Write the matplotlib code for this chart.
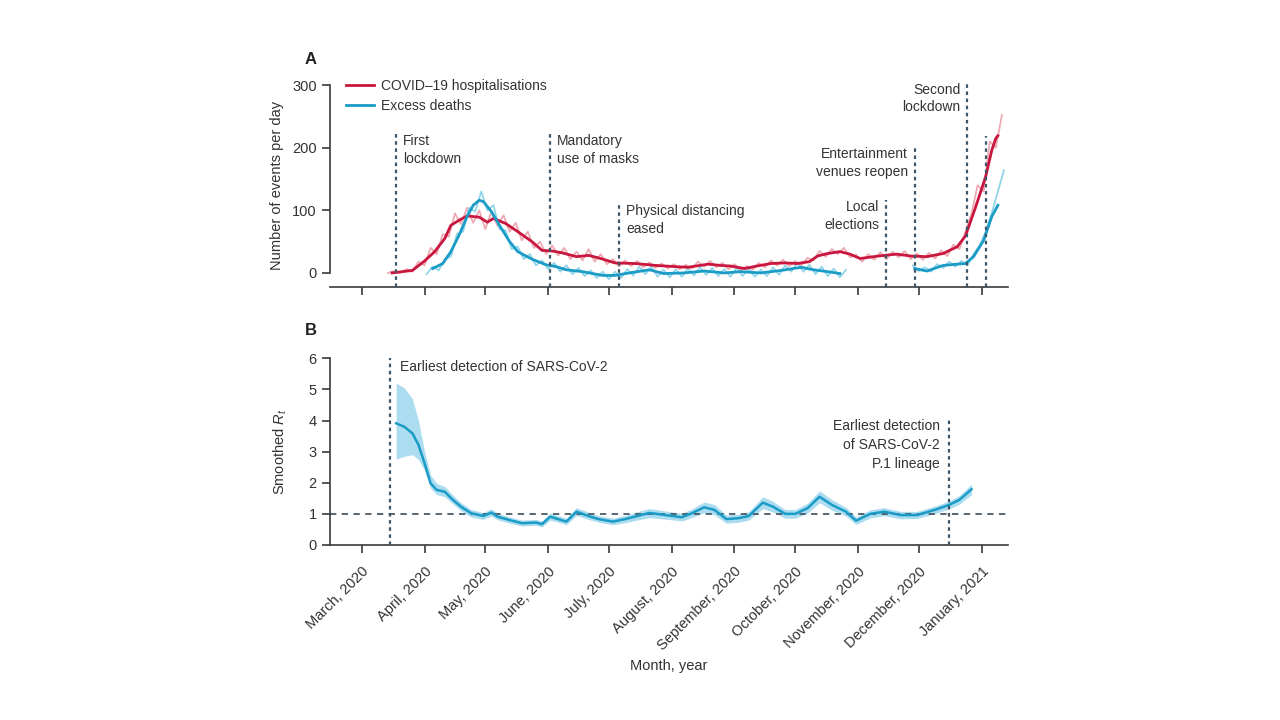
import matplotlib
matplotlib.use("Agg")
import matplotlib.pyplot as plt
from matplotlib.lines import Line2D
import pandas as pd

plt.rcParams['font.family'] = ['Liberation Sans', 'DejaVu Sans']
plt.rcParams['mathtext.fontset'] = 'custom'
plt.rcParams['mathtext.rm'] = 'Liberation Sans'
plt.rcParams['mathtext.it'] = 'Liberation Sans:italic'

# ---- data ----
# panel A: COVID-19 hospitalisations (smoothed)
hosp_dates = ['2020-03-16', '2020-03-26', '2020-04-01', '2020-04-06', '2020-04-11', '2020-04-14',
              '2020-04-18', '2020-04-22', '2020-04-28', '2020-05-02', '2020-05-05', '2020-05-11',
              '2020-05-17', '2020-05-24', '2020-05-29', '2020-06-03', '2020-06-08', '2020-06-15',
              '2020-06-21', '2020-06-27', '2020-07-04', '2020-07-14', '2020-07-24', '2020-08-03',
              '2020-08-09', '2020-08-19', '2020-08-25', '2020-08-30', '2020-09-06', '2020-09-12',
              '2020-09-19', '2020-09-26', '2020-10-02', '2020-10-08', '2020-10-12', '2020-10-17',
              '2020-10-23', '2020-10-28', '2020-11-02', '2020-11-11', '2020-11-20', '2020-11-27',
              '2020-12-05', '2020-12-13', '2020-12-20', '2020-12-24', '2020-12-29', '2021-01-03',
              '2021-01-06', '2021-01-08', '2021-01-09']
hosp_smooth = [0, 4, 19, 34, 55, 76, 84, 91, 89, 81, 87, 79, 66, 50, 36, 35, 32, 26, 28, 23,
               16, 15, 12, 10, 9, 14, 12, 11, 7, 11, 15, 16, 15, 18, 27, 31, 34, 30, 23, 27,
               30, 27, 26, 31, 42, 59, 105, 154, 196, 215, 219]

# daily counts sampled every 3 days from 14 March 2020
hosp_raw_start = '2020-03-14'
hosp_raw = [0, 3, 0, 6, 2, 18,
            12, 40, 30, 62, 58, 95, 78, 104, 80, 100,
            70, 98, 75, 92, 66, 80, 52, 66, 40, 50, 30,
            44, 28, 40, 22, 34, 20, 38, 18, 30, 14,
            22, 10, 20, 11, 19, 9, 17, 8, 15, 7,
            14, 6, 13, 7, 18, 10, 19, 9, 16, 6,
            14, 4, 11, 5, 16, 9, 20, 12, 21, 11,
            19, 12, 24, 20, 35, 26, 38, 30, 40, 25, 29,
            18, 30, 21, 33, 22, 34, 25, 35, 22, 31,
            21, 32, 23, 36, 27, 45, 38, 66, 95, 140,
            130, 210, 200, 252]

# excess deaths (smoothed), two stretches
deaths_dates_a = ['2020-04-05', '2020-04-10', '2020-04-14', '2020-04-18', '2020-04-22', '2020-04-25',
                  '2020-04-28', '2020-04-30', '2020-05-04', '2020-05-08', '2020-05-13', '2020-05-17',
                  '2020-05-24', '2020-05-31', '2020-06-05', '2020-06-10', '2020-06-18', '2020-06-28',
                  '2020-07-04', '2020-07-11', '2020-07-21', '2020-07-28', '2020-08-07', '2020-08-17',
                  '2020-08-27', '2020-09-04', '2020-09-14', '2020-09-24', '2020-10-04', '2020-10-10',
                  '2020-10-17', '2020-10-23']
deaths_smooth_a = [7, 15, 34, 60, 90, 108, 116, 114, 98, 76, 50, 34, 22, 13, 10, 5, 2, -4,
                   -4, 0, 5, -1, 0, 3, 0, 2, 0, 4, 9, 5, 2, -1]
deaths_dates_b = ['2020-11-29', '2020-12-05', '2020-12-13', '2020-12-20', '2020-12-24',
                  '2020-12-28', '2021-01-02', '2021-01-06', '2021-01-09']
deaths_smooth_b = [7, 3, 12, 14, 15, 26, 52, 90, 108]

# daily excess deaths sampled every 3 days
deaths_raw_start_a = '2020-04-02'
deaths_raw_a = [-2, 10, 4, 22, 26, 62, 66, 104, 98, 130,
                100, 108, 70, 68, 38, 42, 22, 30, 12, 20,
                6, 16, 2, 12, -2, 8, -5, 4, -8, 2,
                -10, 2, -8, 6, -4, 10, -2, 10, -6, 5, -7,
                6, -6, 7, -4, 9, -3, 8, -5, 6, -6,
                8, -5, 7, -6, 5, -5, 9, -3, 12, 2,
                16, 2, 13, -2, 10, -5, 7, -7, 5]
deaths_raw_start_b = '2020-11-28'
deaths_raw_b = [12, 3, 9, 2, 14, 8, 18, 10, 19, 12, 30, 44, 66, 96, 130, 164]

# panel B: smoothed Rt with credible interval
rt_dates = ['2020-03-18', '2020-03-22', '2020-03-26', '2020-03-29', '2020-04-01', '2020-04-04',
            '2020-04-07', '2020-04-11', '2020-04-15', '2020-04-19', '2020-04-24', '2020-04-30',
            '2020-05-04', '2020-05-07', '2020-05-13', '2020-05-19', '2020-05-26', '2020-05-29',
            '2020-06-02', '2020-06-06', '2020-06-10', '2020-06-15', '2020-06-21', '2020-06-26',
            '2020-07-03', '2020-07-09', '2020-07-15', '2020-07-21', '2020-07-29', '2020-08-06',
            '2020-08-11', '2020-08-17', '2020-08-22', '2020-08-28', '2020-09-03', '2020-09-08',
            '2020-09-15', '2020-09-20', '2020-09-26', '2020-10-01', '2020-10-07', '2020-10-13',
            '2020-10-19', '2020-10-26', '2020-10-31', '2020-11-07', '2020-11-14', '2020-11-22',
            '2020-11-30', '2020-12-09', '2020-12-16', '2020-12-21', '2020-12-27']
rt_mid = [3.91, 3.80, 3.59, 3.22, 2.63, 1.98, 1.77, 1.71, 1.45, 1.23, 1.02, 0.93, 1.04, 0.91,
          0.80, 0.70, 0.72, 0.67, 0.91, 0.83, 0.75, 1.07, 0.93, 0.83, 0.75, 0.83, 0.93, 1.03,
          0.96, 0.89, 1.02, 1.21, 1.13, 0.83, 0.86, 0.93, 1.36, 1.23, 1.00, 1.00, 1.18, 1.55,
          1.29, 1.07, 0.78, 1.00, 1.07, 0.96, 0.96, 1.13, 1.29, 1.45, 1.79]
rt_low = [2.76, 2.85, 2.90, 2.75, 2.40, 1.82, 1.62, 1.55, 1.32, 1.10, 0.90, 0.82, 0.93, 0.81,
          0.70, 0.61, 0.63, 0.58, 0.80, 0.73, 0.65, 0.95, 0.82, 0.73, 0.65, 0.72, 0.80, 0.88,
          0.83, 0.77, 0.88, 1.04, 0.97, 0.70, 0.73, 0.80, 1.17, 1.06, 0.86, 0.86, 1.02, 1.36,
          1.12, 0.93, 0.66, 0.87, 0.94, 0.84, 0.85, 1.01, 1.16, 1.31, 1.62]
rt_high = [5.20, 5.05, 4.70, 4.00, 3.00, 2.25, 1.98, 1.88, 1.60, 1.36, 1.14, 1.04, 1.16, 1.02,
           0.90, 0.80, 0.82, 0.77, 1.02, 0.94, 0.86, 1.20, 1.05, 0.94, 0.86, 0.95, 1.07, 1.17,
           1.09, 1.02, 1.16, 1.38, 1.30, 0.96, 0.99, 1.07, 1.55, 1.40, 1.14, 1.14, 1.34, 1.74,
           1.46, 1.21, 0.90, 1.13, 1.20, 1.08, 1.08, 1.25, 1.42, 1.59, 1.96]

# events: (date, label, top of line, label top, side)
events_a = [('2020-03-18', 'First\nlockdown', 222, 222, 'right'),
            ('2020-06-02', 'Mandatory\nuse of masks', 222, 222, 'right'),
            ('2020-07-06', 'Physical distancing\neased', 110, 110, 'right'),
            ('2020-11-15', 'Local\nelections', 116, 116, 'left'),
            ('2020-11-29', 'Entertainment\nvenues reopen', 199, 201, 'left'),
            ('2020-12-25', 'Second\nlockdown', 303, 304, 'left'),
            ('2021-01-03', '', 219, 219, 'left')]
events_b = [('2020-03-15', 'Earliest detection of SARS-CoV-2', 6, 5.93, 'right'),
            ('2020-12-16', 'Earliest detection\nof SARS-CoV-2\nP.1 lineage', 4.02, 4.04, 'left')]

month_ticks = ['2020-03-01', '2020-04-01', '2020-05-01', '2020-06-01', '2020-07-01', '2020-08-01',
               '2020-09-01', '2020-10-01', '2020-11-01', '2020-12-01', '2021-01-01']
month_labels = ['March, 2020', 'April, 2020', 'May, 2020', 'June, 2020', 'July, 2020',
                'August, 2020', 'September, 2020', 'October, 2020', 'November, 2020',
                'December, 2020', 'January, 2021']

# ---- styling ----
RED = '#c8163f'
RED_LIGHT = '#eeaab2'
BLUE = '#1a9cc6'
BLUE_LIGHT = '#93d5ea'
BAND = '#abdcf0'
EVENT = '#3e5668'
AXC = '#3a3a3a'
TXT = '#333333'
FS = 10

fig = plt.figure(figsize=(12.8, 7.2), dpi=100)
ax1 = fig.add_axes([0.2578, 0.6018, 0.5297, 0.2801])
ax2 = fig.add_axes([0.2578, 0.2431, 0.5297, 0.2593])

xmin = pd.Timestamp('2020-02-14 08:00')
xmax = pd.Timestamp('2021-01-14')
ticks = pd.to_datetime(month_ticks)

for ax in (ax1, ax2):
    ax.set_xlim(xmin, xmax)
    ax.set_xticks(ticks)
    for s in ('top', 'right'):
        ax.spines[s].set_visible(False)
    for s in ('left', 'bottom'):
        ax.spines[s].set_color(AXC)
        ax.spines[s].set_linewidth(1.2)
    ax.tick_params(colors=AXC, labelcolor=TXT, width=1.2, length=6, labelsize=10.5)

# panel A
step3_h = pd.date_range(hosp_raw_start, periods=len(hosp_raw), freq='3D')
step3_da = pd.date_range(deaths_raw_start_a, periods=len(deaths_raw_a), freq='3D')
step3_db = pd.date_range(deaths_raw_start_b, periods=len(deaths_raw_b), freq='3D')
ax1.plot(step3_h, hosp_raw, color=RED_LIGHT, lw=1.3, zorder=2)
ax1.plot(step3_da, deaths_raw_a, color=BLUE_LIGHT, lw=1.3, zorder=2)
ax1.plot(step3_db, deaths_raw_b, color=BLUE_LIGHT, lw=1.3, zorder=2)
ax1.plot(pd.to_datetime(hosp_dates), hosp_smooth, color=RED, lw=2, zorder=3)
ax1.plot(pd.to_datetime(deaths_dates_a), deaths_smooth_a, color=BLUE, lw=2, zorder=3)
ax1.plot(pd.to_datetime(deaths_dates_b), deaths_smooth_b, color=BLUE, lw=2, zorder=3)

ax1.set_ylim(-22, 300)
ax1.set_yticks([0, 100, 200, 300])
ax1.spines['left'].set_bounds(0, 300)
ax1.set_xticklabels([])
ax1.set_ylabel('Number of events per day', fontsize=FS + 0.5, color=TXT, labelpad=6)

for d, label, top, ytext, side in events_a:
    dt = pd.Timestamp(d)
    ax1.plot([dt, dt], [-22, top], color=EVENT, lw=1.6, ls=(0, (1.6, 1.6)), zorder=4, clip_on=False)
    if label:
        off = 5 if side == 'right' else -5
        ax1.annotate(label, xy=(dt, ytext), xytext=(off, 0), textcoords='offset points',
                     ha='left' if side == 'right' else 'right', va='top', fontsize=FS,
                     color=TXT, linespacing=1.35, annotation_clip=False)

handles = [Line2D([], [], color=RED, lw=2), Line2D([], [], color=BLUE, lw=2)]
ax1.legend(handles, ['COVID–19 hospitalisations', 'Excess deaths'], loc='upper left',
           bbox_to_anchor=(0.024, 1.03), frameon=False, fontsize=FS, handlelength=2,
           handletextpad=0.5, labelspacing=0.45, borderpad=0, borderaxespad=0,
           labelcolor=TXT)

# panel B
rt_x = pd.to_datetime(rt_dates)
ax2.fill_between(rt_x, rt_low, rt_high, color=BAND, lw=0, zorder=1)
ax2.plot(rt_x, rt_mid, color=BLUE, lw=1.8, zorder=3)
ax2.axhline(1, color='#4a5a66', lw=1.3, ls=(0, (3.5, 3)), zorder=2)
ax2.set_ylim(0, 6)
ax2.set_yticks(range(0, 7))

for d, label, top, ytext, side in events_b:
    dt = pd.Timestamp(d)
    ax2.plot([dt, dt], [0, top], color=EVENT, lw=1.6, ls=(0, (1.6, 1.6)), zorder=4, clip_on=False)
    off = 7 if side == 'right' else -7
    ax2.annotate(label, xy=(dt, ytext), xytext=(off, 0), textcoords='offset points',
                 ha='left' if side == 'right' else 'right', va='top', fontsize=FS,
                 color=TXT, linespacing=1.45, annotation_clip=False)

ax2.set_ylabel('Smoothed $R_{t}$', fontsize=FS + 0.5, color=TXT, labelpad=14)
ax2.set_xticklabels(month_labels, rotation=45, ha='right', va='top', rotation_mode='anchor')
ax2.tick_params(axis='x', pad=8)
ax2.set_xlabel('Month, year', fontsize=FS + 0.5, color=TXT, labelpad=4)

fig.text(0.2383, 0.917, 'A', fontsize=12, fontweight='bold', color='#222222', va='center')
fig.text(0.2383, 0.541, 'B', fontsize=12, fontweight='bold', color='#222222', va='center')

fig.savefig('out.png', dpi=100, facecolor='white')
